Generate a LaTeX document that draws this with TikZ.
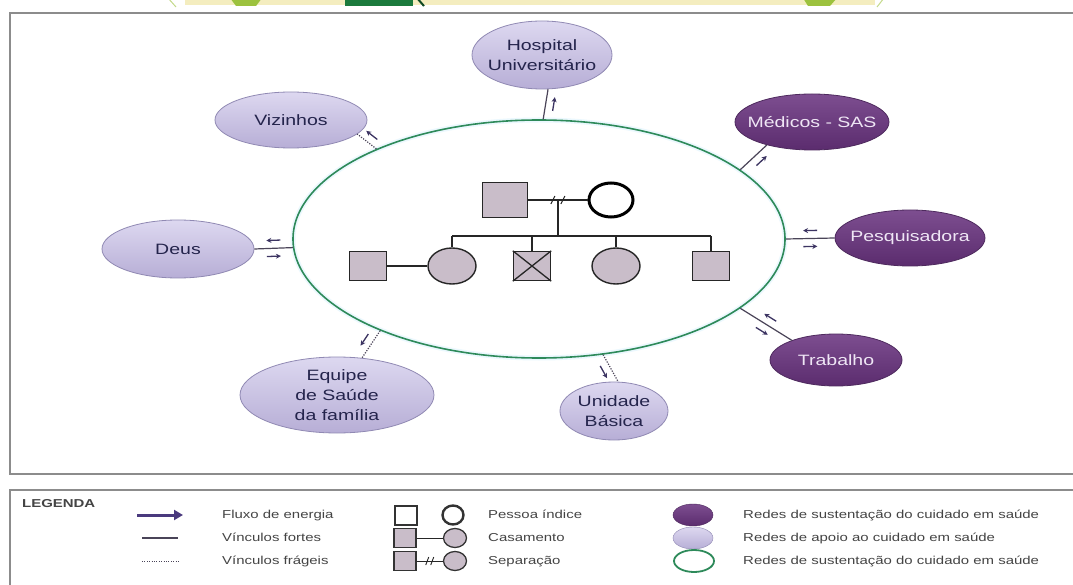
\documentclass[tikz,border=0pt]{standalone}
\usepackage{fontspec}
\setmainfont{Liberation Sans}[FakeStretch=1.3]
\usetikzlibrary{shapes.geometric,arrows.meta,decorations.markings,calc}
\definecolor{lighttop}{HTML}{DDD8F0}
\definecolor{lightbot}{HTML}{B7AED6}
\definecolor{lightdraw}{HTML}{9089B3}
\definecolor{darktop}{HTML}{7D4E90}
\definecolor{darkbot}{HTML}{5B2C6E}
\definecolor{darkdraw}{HTML}{4E2A5E}
\definecolor{lighttext}{HTML}{24244C}
\definecolor{darktext}{HTML}{EFE6F5}
\definecolor{netgreen}{HTML}{2E8A5A}
\definecolor{linkc}{HTML}{4A4458}
\definecolor{flowc}{HTML}{3C3462}
\definecolor{genofill}{HTML}{C9BDC9}
\definecolor{framec}{HTML}{8C8C8C}
\definecolor{legtext}{HTML}{444444}
\definecolor{legarrow}{HTML}{4A3A7E}
\definecolor{deccream}{HTML}{F4EDBF}
\definecolor{declight}{HTML}{9CC23E}
\definecolor{decdark}{HTML}{1B7A3C}
\newcommand\myNodeFont{\fontsize{15}{20}\selectfont}
\newcommand\myLegFont{\fontsize{11.5}{14}\selectfont}
\begin{document}
\begin{tikzpicture}[x=1pt,y=-1pt,
  lnode/.style={ellipse, draw=lightdraw, line width=0.8pt, top color=lighttop, bottom color=lightbot, inner sep=0pt},
  dnode/.style={ellipse, draw=darkdraw, line width=0.8pt, top color=darktop, bottom color=darkbot, inner sep=0pt},
  esz/.style 2 args={minimum width=#1, minimum height=#2},
  ltxt/.style={align=center, font=\myNodeFont, text=lighttext, inner sep=0pt},
  dtxt/.style={align=center, font=\myNodeFont, text=darktext, inner sep=0pt},
  strong/.style={draw=linkc, line width=1.2pt},
  weak/.style={draw=linkc, line width=1.2pt, dash pattern=on 1.2pt off 1.4pt},
  flow/.style={draw=flowc, solid, line width=1.3pt, -{Stealth[length=5pt,width=5pt]}},
  fwdR/.style={postaction={decorate, decoration={markings, mark=at position #1 with {\draw[flow] (-7pt,-8pt) -- (7pt,-8pt);}}}},
  backL/.style={postaction={decorate, decoration={markings, mark=at position #1 with {\draw[flow] (7pt,8pt) -- (-7pt,8pt);}}}},
  gsq/.style={rectangle, draw=black!85, line width=1.4pt, fill=genofill, inner sep=0pt, minimum width=37pt, minimum height=29pt},
  gci/.style={ellipse, draw=black!85, line width=1.4pt, fill=genofill, inner sep=0pt, minimum width=48pt, minimum height=36pt},
  gline/.style={draw=black!85, line width=1.3pt},
  ltext/.style={font=\myLegFont, text=legtext, anchor=west, inner sep=0pt, text height=8.5pt, text depth=2.5pt},
  lsq/.style={rectangle, draw=black!80, line width=1.3pt, fill=genofill, inner sep=0pt, minimum width=22pt, minimum height=19pt},
  lci/.style={ellipse, draw=black!80, line width=1.3pt, fill=genofill, inner sep=0pt, minimum width=23pt, minimum height=19pt},
  lell/.style={ellipse, inner sep=0pt, minimum width=40pt, minimum height=22pt}
]
\useasboundingbox (0,0) rectangle (1073,585);
\clip (0,0) rectangle (1073,585);
\fill[white] (0,0) rectangle (1073,585);

% top decoration (cut banner)
\fill[deccream] (185,-2) rectangle (875,5);
\fill[declight] (230,-2) -- (262,-2) -- (256,6) -- (236,6) -- cycle;
\fill[decdark] (345,-2) rectangle (413,6);
\draw[decdark!60!black, line width=2pt] (417,-2) -- (424,6);
\fill[declight] (803,-2) -- (837,-2) -- (830,6) -- (808,6) -- cycle;
\draw[declight!60, line width=1pt] (168,-2) -- (176,7);
\draw[declight!60, line width=1pt] (884,-2) -- (877,7);

% frames
\draw[framec, line width=1.5pt] (1085,13) -- (10,13) -- (10,474) -- (1085,474);
\draw[framec, line width=1.5pt] (1085,490) -- (10,490) -- (10,600);

% central network ellipse
\node[ellipse, draw=netgreen, line width=1.6pt, preaction={draw=cyan!8, line width=5pt},
      minimum width=492pt, minimum height=238pt, inner sep=0pt] (net) at (539,239) {};

% outer nodes
\node[lnode, esz={140pt}{68pt}, label={[ltxt]center:{Hospital\\Universitário}}] (hosp) at (542,55) {};
\node[lnode, esz={152pt}{56pt}, label={[ltxt]center:Vizinhos}] (viz) at (291,120) {};
\node[lnode, esz={152pt}{58pt}, label={[ltxt]center:Deus}] (deus) at (178,249) {};
\node[lnode, esz={194pt}{76pt}, label={[ltxt]center:{Equipe\\de Saúde\\da família}}] (eq) at (337,395) {};
\node[lnode, esz={108pt}{58pt}, label={[ltxt]center:{Unidade\\Básica}}] (uni) at (614,411) {};
\node[dnode, esz={132pt}{52pt}, label={[dtxt]center:Trabalho}] (trab) at (836,360) {};
\node[dnode, esz={150pt}{56pt}, label={[dtxt]center:Pesquisadora}] (pes) at (910,238) {};
\node[dnode, esz={154pt}{56pt}, label={[dtxt]center:Médicos - SAS}] (med) at (812,122) {};

% connectors
\draw[strong, fwdR=0.55] (net.88) -- (hosp.-80);
\draw[weak, fwdR=0.5] (net.151) -- (viz.-12);
\draw[strong, fwdR=0.6] (net.19) -- (med.207);
\draw[strong, backL=0.5, fwdR=0.5] (net.0) -- (pes.180);
\draw[strong, backL=0.5, fwdR=0.5] (net.-19) -- (trab.156);
\draw[strong, fwdR=0.5, backL=0.5] (net.182) -- (deus.0);
\draw[weak, fwdR=0.5] (net.210) -- (eq.56);
\draw[weak, fwdR=0.5] (net.-61) -- (uni.82);

% genogram
\node[gsq, minimum width=45pt, minimum height=35pt] (f) at (505,200) {};
\node[ellipse, draw=black, line width=3pt, fill=white, inner sep=0pt, minimum width=44pt, minimum height=34pt] (m) at (611,200) {};
\node[gsq] (s) at (368,266) {};
\node[gci] (c1) at (452,266) {};
\node[gsq] (c2) at (532,266) {};
\node[gci] (c3) at (616,266) {};
\node[gsq] (c4) at (711,266) {};
\coordinate (mar) at ($(f.east)!0.5!(m.west)$);
\coordinate (sib) at ($(mar)+(0,36)$);
\draw[gline] (f.east) -- (m.west);
\draw[gline, line width=1pt] ($(mar)+(-7,4)$) -- ($(mar)+(-3,-4)$);
\draw[gline, line width=1pt] ($(mar)+(3,4)$) -- ($(mar)+(7,-4)$);
\draw[gline] (mar) -- (sib);
\draw[gline] (c1.north |- sib) -- (c4.north |- sib);
\foreach \c in {c1,c2,c3,c4} \draw[gline] (\c.north |- sib) -- (\c.north);
\draw[gline] (s.east) -- (c1.west);
\draw[gline] (c2.north west) -- (c2.south east) (c2.north east) -- (c2.south west);

% legend
\node[font=\myLegFont\bfseries, text=legtext, anchor=west, inner sep=0pt] (legt) at (22,504) {LEGENDA};
\coordinate (la1) at (137,515); \coordinate (la2) at (183,515);
\draw[legarrow, line width=3pt, -{Triangle[length=9pt,width=10pt]}] (la1) -- (la2);
\coordinate (lb1) at (142,538); \coordinate (lb2) at (178,538);
\draw[strong] (lb1) -- (lb2);
\coordinate (lc1) at (142,561); \coordinate (lc2) at (180,561);
\draw[draw=linkc, line width=1pt, dash pattern=on 1pt off 1.4pt] (lc1) -- (lc2);
\node[ltext] (t1) at (222,515) {Fluxo de energia};
\node[ltext] (t2) at (222,538) {Vínculos fortes};
\node[ltext] (t3) at (222,561) {Vínculos frágeis};

\node[lsq, fill=white, line width=2pt] (p1) at (406,515) {};
\node[lci, fill=white, line width=2.4pt, minimum width=21pt] (p2) at (453,515) {};
\node[lsq] (q1) at (405,538) {};
\node[lci] (q2) at (455,538) {};
\draw[gline, line width=1pt] (q1) -- (q2);
\node[lsq] (r1) at (405,561) {};
\node[lci] (r2) at (455,561) {};
\draw[gline, line width=1pt] (r1) -- (r2);
\coordinate (rm) at ($(r1.east)!0.5!(r2.west)$);
\draw[gline, line width=0.9pt] ($(rm)+(-4,4)$) -- ($(rm)+(-1,-4)$);
\draw[gline, line width=0.9pt] ($(rm)+(1,4)$) -- ($(rm)+(4,-4)$);
\node[ltext] (u1) at (488,515) {Pessoa índice};
\node[ltext] (u2) at (488,538) {Casamento};
\node[ltext] (u3) at (488,561) {Separação};

\node[lell, draw=darkdraw, top color=darktop, bottom color=darkbot] (e1) at (693,515) {};
\node[lell, draw=lightdraw, top color=lighttop, bottom color=lightbot] (e2) at (693,538) {};
\node[lell, draw=netgreen, line width=1.8pt, fill=white] (e3) at (694,561) {};
\node[ltext] (v1) at (743,515) {Redes de sustentação do cuidado em saúde};
\node[ltext] (v2) at (743,538) {Redes de apoio ao cuidado em saúde};
\node[ltext] (v3) at (743,561) {Redes de sustentação do cuidado em saúde};
\end{tikzpicture}
\end{document}
